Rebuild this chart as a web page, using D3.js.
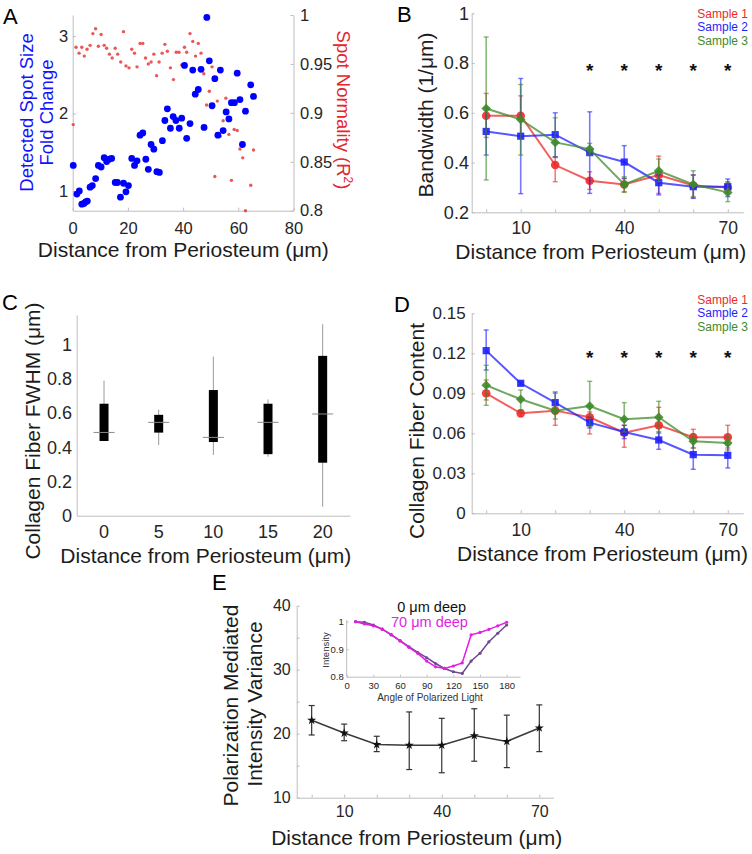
<!DOCTYPE html>
<html><head><meta charset="utf-8">
<script src="https://cdn.jsdelivr.net/npm/d3@7/dist/d3.min.js"></script>
<style>html,body{margin:0;padding:0;background:#fff;}svg{display:block;}</style>
</head><body><svg id="c" width="752" height="854"></svg>
<script>
// ---------- DATA ----------
// Panel A
const aBlueX = [0.2,1.5,2.4,3.3,4.1,4.7,5.3,6.3,7.1,8.3,9.3,10.3,11.4,12.3,13.2,14.1,15.4,16.2,17.3,18.4,19.3,20.2,21.4,22.4,23.3,24.4,25.4,26.5,27.4,28.4,29.4,30.5,31.4,32.5,33.4,34.3,35.4,36.4,37.4,38.6,39.5,40.5,41.3,42.5,43.5,44.4,45.5,46.5,47.6,48.6,49.5,50.5,51.5,52.6,53.5,54.5,55.6,56.6,57.5,58.6,59.6,60.6,61.5,62.6,64.5,65.5];
const aBlueY = [1.33,0.96,1.0,0.83,0.84,0.86,0.87,1.05,1.07,1.16,1.33,1.31,1.43,1.38,1.41,1.42,1.11,1.11,0.92,1.10,0.99,1.07,1.42,1.33,1.39,1.72,1.75,1.41,1.28,1.60,1.54,1.25,1.24,1.65,1.91,2.06,1.81,1.96,1.91,1.81,1.94,2.62,1.68,1.87,2.56,2.25,2.31,2.57,1.82,3.24,2.68,2.10,2.45,1.72,2.56,1.78,2.02,1.93,2.14,2.14,2.52,2.18,1.60,2.03,2.37,2.22];
const aRedX = [0.2,1.2,2.3,3.3,4.2,5.2,6.3,7.3,8.3,9.3,10.3,11.4,12.3,13.3,14.3,15.4,16.3,17.4,18.4,19.3,20.4,21.4,22.4,23.3,24.4,25.4,26.4,27.4,28.4,29.4,30.4,31.3,32.4,33.4,34.3,35.4,36.5,37.5,38.5,39.5,40.5,41.3,42.5,43.5,44.5,45.5,46.5,47.5,48.5,49.5,50.5,51.5,52.4,53.4,54.5,55.5,56.6,57.5,58.5,59.6,60.6,61.6,62.6,64.5,65.5];
const aRedY = [0.888,0.967,0.961,0.967,0.958,0.965,0.969,0.981,0.986,0.968,0.980,0.969,0.966,0.960,0.956,0.966,0.960,0.952,0.983,0.948,0.946,0.965,0.961,0.947,0.971,0.971,0.956,0.950,0.952,0.960,0.938,0.952,0.961,0.970,0.963,0.946,0.934,0.962,0.962,0.949,0.967,0.962,0.981,0.973,0.958,0.971,0.961,0.940,0.908,0.922,0.947,0.835,0.912,0.876,0.892,0.915,0.878,0.831,0.883,0.882,0.863,0.854,0.800,0.826,0.862];
const aXTicks = [0,20,40,60,80];
const aLTicks = [1,2,3];
const aRTicks = [0.8,0.85,0.9,0.95,1];

// Panels B, D, E share depth positions
const depth = [0,10,20,30,40,50,60,70];
const depthLabels = [10,40,70];
const starDepths = [30,40,50,60,70];
const sampleNames = ["Sample 1","Sample 2","Sample 3"];

// Panel B: bandwidth
const b1 = [0.588,0.588,0.39,0.327,0.312,0.35,0.308,0.30];
const b1Hi = [0.678,0.668,0.423,0.363,0.336,0.426,0.35,0.323];
const b1Lo = [0.501,0.505,0.323,0.292,0.283,0.276,0.259,0.276];
const b2 = [0.525,0.506,0.512,0.44,0.402,0.319,0.303,0.303];
const b2Hi = [0.62,0.738,0.60,0.604,0.468,0.35,0.35,0.334];
const b2Lo = [0.43,0.275,0.423,0.276,0.336,0.27,0.256,0.263];
const b3 = [0.617,0.573,0.481,0.454,0.312,0.367,0.312,0.28];
const b3Hi = [0.905,0.714,0.58,0.477,0.343,0.414,0.367,0.32];
const b3Lo = [0.33,0.43,0.42,0.43,0.28,0.323,0.263,0.243];
const bYTicks = [0.2,0.4,0.6,0.8,1];
const bStarY = 0.79;

// Panel C: boxplot of FWHM
const cCats = ["0","5","10","15","20"];
const cWhiskHi = [0.79,0.62,0.93,0.68,1.12];
const cQ3 = [0.655,0.59,0.735,0.655,0.935];
const cMed = [0.487,0.546,0.458,0.546,0.595];
const cQ1 = [0.437,0.486,0.431,0.36,0.31];
const cWhiskLo = [0.437,0.413,0.355,0.345,0.053];
const cYTicks = [0,0.2,0.4,0.6,0.8,1];

// Panel D: collagen fiber content
const d1 = [0.090,0.075,0.077,0.072,0.0605,0.066,0.057,0.057];
const d1Hi = [0.1,0.077,0.084,0.076,0.066,0.0795,0.063,0.066];
const d1Lo = [0.085,0.0725,0.066,0.0595,0.0495,0.056,0.049,0.049];
const d2 = [0.122,0.0975,0.083,0.068,0.061,0.055,0.044,0.0435];
const d2Hi = [0.1375,0.0985,0.091,0.072,0.066,0.061,0.054,0.051];
const d2Lo = [0.1075,0.0965,0.076,0.064,0.056,0.048,0.033,0.034];
const d3v = [0.096,0.0855,0.077,0.0805,0.0705,0.072,0.054,0.0528];
const d3Hi = [0.111,0.0925,0.09,0.099,0.083,0.084,0.0595,0.0575];
const d3Lo = [0.081,0.0775,0.0707,0.065,0.061,0.06,0.049,0.0475];
const dYTicks = [0,0.03,0.06,0.09,0.12,0.15];
const dStarY = 0.12;

// Panel E: polarization variance
const eY = [22.1,20.1,18.3,18.2,18.2,19.7,18.8,20.9];
const eHi = [24.4,21.5,19.6,23.4,22.4,23.9,22.9,24.5];
const eLo = [19.8,18.9,17.2,14.4,13.9,15.7,14.7,17.2];
const eYTicks = [10,15,20,25,30,35,40];
const eYLabels = [10,20,30,40];

// Inset
const angles = [10,20,30,40,50,60,70,80,90,100,110,120,130,140,150,160,170,180];
const int0 = [1.0,0.998,0.988,0.973,0.952,0.931,0.909,0.888,0.869,0.848,0.83,0.818,0.812,0.857,0.885,0.927,0.958,0.988];
const int70 = [1.0,0.992,0.985,0.973,0.954,0.93,0.907,0.885,0.857,0.836,0.83,0.839,0.85,0.952,0.961,0.972,0.985,0.998];
const inXTicks = [0,30,60,90,120,150,180];
const inYTicks = [0.8,0.9,1];

// ---------- DRAWING ----------
const FONT = "'Liberation Sans', Arial, Helvetica, sans-serif";
const AX = "#bdbdbd", TXT = "#262626", LBL = "#1c1c1c";
const RED = "#ee2a2a", BLUE = "#1f1fff", GREEN = "#3d8b2a";
const svg = d3.select("#c");
svg.append("rect").attr("width",752).attr("height",854).attr("fill","#fff");

const fmt = d => String(+(+d).toFixed(3));

function styleAxis(g, fs) {
  g.attr("font-family", FONT).attr("font-size", fs);
  g.select(".domain").attr("stroke", AX).attr("stroke-width", 1);
  g.selectAll(".tick line").attr("stroke", AX);
  g.selectAll(".tick text").attr("fill", TXT);
}
function axisBottom(x, y, ticks, labels, fs, pad, tl = 3) {
  const ax = d3.axisBottom(x).tickValues(ticks).tickSize(-tl).tickSizeOuter(0).tickPadding(pad)
    .tickFormat(d => (labels === null || labels.includes(d)) ? fmt(d) : "");
  styleAxis(svg.append("g").attr("transform", `translate(0,${y})`).call(ax), fs);
}
function axisLeft(y, x, ticks, labels, fs, pad, tl = 3) {
  const ax = d3.axisLeft(y).tickValues(ticks).tickSize(-tl).tickSizeOuter(0).tickPadding(pad)
    .tickFormat(d => (labels === null || labels.includes(d)) ? fmt(d) : "");
  styleAxis(svg.append("g").attr("transform", `translate(${x},0)`).call(ax), fs);
}
function text(str, x, y, fs, opts = {}) {
  const t = svg.append("text").attr("x", x).attr("y", y).attr("font-family", FONT)
    .attr("font-size", fs).attr("fill", opts.fill || LBL)
    .attr("text-anchor", opts.anchor || "middle");
  if (opts.rot) t.attr("transform", `rotate(${opts.rot},${x},${y})`);
  if (opts.weight) t.attr("font-weight", opts.weight);
  t.text(str);
  return t;
}

// Panel letters
text("A", 3, 24, 22, {anchor: "start", fill: "#000"});
text("B", 397, 22, 22, {anchor: "start", fill: "#000"});
text("C", 2, 310, 22, {anchor: "start", fill: "#000"});
text("D", 394, 312, 22, {anchor: "start", fill: "#000"});
text("E", 212, 590, 22, {anchor: "start", fill: "#000"});

// ---------- Panel A ----------
{
  const x = d3.scaleLinear([0, 80], [72.7, 293.5]);
  const yL = d3.scaleLinear([0.746, 3.271], [210.7, 15]);
  const yR = d3.scaleLinear([0.8, 1], [210.7, 15]);
  axisBottom(x, 210.7, aXTicks, null, 16.5, 11.8);
  axisLeft(yL, 72.7, aLTicks, null, 16.5, 4.4);
  const axR = d3.axisRight(yR).tickValues(aRTicks).tickSize(-3).tickSizeOuter(0).tickPadding(6.5).tickFormat(fmt);
  styleAxis(svg.append("g").attr("transform", `translate(293.5,0)`).call(axR), 16.5);
  svg.append("g").selectAll("circle").data(aRedX).join("circle")
    .attr("cx", (d) => x(d)).attr("cy", (d, i) => yR(aRedY[i])).attr("r", 1.7)
    .attr("fill", "#e53b3b").attr("opacity", 0.85);
  svg.append("g").selectAll("circle").data(aBlueX).join("circle")
    .attr("cx", (d) => x(d)).attr("cy", (d, i) => yL(aBlueY[i])).attr("r", 3.4)
    .attr("fill", "#0000ff");
  text("Distance from Periosteum (μm)", 183.3, 257, 21);
  text("Detected Spot Size", 33, 112.5, 18.5, {rot: -90, fill: "#1212ff"});
  text("Fold Change", 53, 112.5, 18.5, {rot: -90, fill: "#1212ff"});
  const rl = svg.append("text").attr("x", 337).attr("y", 110).attr("font-family", FONT)
    .attr("font-size", 18.5).attr("fill", "#e3262b").attr("text-anchor", "middle")
    .attr("transform", "rotate(90,337,110)");
  rl.append("tspan").text("Spot Normality (R");
  rl.append("tspan").attr("font-size", 12).attr("dy", -7).text("2");
  rl.append("tspan").attr("dy", 7).text(")");
}

// ---------- Panels B & D ----------
function diamond(s) { return `M0,${-s}L${s},0L0,${s}L${-s},0Z`; }
function seriesPanel(x, y, series) {
  series.forEach(s => {
    const g = svg.append("g");
    depth.forEach((dv, i) => {
      const xx = x(dv);
      g.append("line").attr("x1", xx).attr("x2", xx).attr("y1", y(s.lo[i])).attr("y2", y(s.hi[i]))
        .attr("stroke", s.c).attr("stroke-width", 1.6).attr("opacity", 0.6);
      [s.lo[i], s.hi[i]].forEach(v => g.append("line").attr("x1", xx - 2.5).attr("x2", xx + 2.5)
        .attr("y1", y(v)).attr("y2", y(v)).attr("stroke", s.c).attr("stroke-width", 1.4).attr("opacity", 0.6));
    });
    g.append("path").attr("d", d3.line().x((d, i) => x(depth[i])).y(d => y(d))(s.v))
      .attr("fill", "none").attr("stroke", s.c).attr("stroke-width", 2).attr("opacity", 0.75);
    s.v.forEach((v, i) => {
      const xx = x(depth[i]), yy = y(v);
      if (s.m === "o") g.append("circle").attr("cx", xx).attr("cy", yy).attr("r", 4.3).attr("fill", s.c).attr("opacity", 0.9);
      else if (s.m === "s") g.append("rect").attr("x", xx - 3.6).attr("y", yy - 3.6).attr("width", 7.2).attr("height", 7.2).attr("fill", s.c).attr("opacity", 0.9);
      else g.append("path").attr("transform", `translate(${xx},${yy})`).attr("d", diamond(4.8)).attr("fill", s.c).attr("opacity", 0.9);
    });
  });
}
function legend(baselines) {
  const cols = [RED, BLUE, GREEN];
  sampleNames.forEach((n, i) => text(n, 748, baselines[i], 12, {anchor: "end", fill: cols[i]}));
}
function stars(x, y, val) {
  starDepths.forEach(dv => text("*", x(dv), y(val) + 11, 19, {fill: "#111", weight: "bold"}));
}
{
  const x = d3.scaleLinear([-4.2, 74.5], [471.7, 743.3]);
  const y = d3.scaleLinear([0.2, 1], [212.3, 13.3]);
  axisBottom(x, 212.3, depth, depthLabels, 17.5, 9.6);
  axisLeft(y, 471.7, bYTicks, null, 18, 2.8);
  seriesPanel(x, y, [
    {v: b1, hi: b1Hi, lo: b1Lo, c: RED, m: "o"},
    {v: b2, hi: b2Hi, lo: b2Lo, c: BLUE, m: "s"},
    {v: b3, hi: b3Hi, lo: b3Lo, c: GREEN, m: "d"}]);
  stars(x, y, bStarY);
  legend([17.5, 31, 44.5]);
  text("Distance from Periosteum (μm)", 600.8, 258.5, 21);
  text("Bandwidth (1/μm)", 433, 115, 21, {rot: -90});
}
{
  const x = d3.scaleLinear([-4.2, 74.5], [471.7, 743.3]);
  const y = d3.scaleLinear([0, 0.15], [513.3, 313.3]);
  axisBottom(x, 513.3, depth, depthLabels, 17.5, 10.2);
  axisLeft(y, 471.7, dYTicks, null, 17, 6);
  seriesPanel(x, y, [
    {v: d1, hi: d1Hi, lo: d1Lo, c: RED, m: "o"},
    {v: d2, hi: d2Hi, lo: d2Lo, c: BLUE, m: "s"},
    {v: d3v, hi: d3Hi, lo: d3Lo, c: GREEN, m: "d"}]);
  stars(x, y, dStarY);
  legend([303.5, 317, 330.5]);
  text("Distance from Periosteum (μm)", 602.5, 560.5, 21);
  text("Collagen Fiber Content", 423.5, 431, 21, {rot: -90});
}

// ---------- Panel C ----------
{
  const x = d3.scaleLinear([0.5, 5.5], [76.7, 350]);
  const y = d3.scaleLinear([0, 1.174], [515.7, 315]);
  const xb = d3.scaleBand(cCats, [76.7, 350]);
  const axB = d3.axisBottom(xb).tickSize(0).tickSizeOuter(0).tickPadding(9.8);
  styleAxis(svg.append("g").attr("transform", "translate(0,515.7)").call(axB), 18);
  axisLeft(y, 76.7, cYTicks, null, 18, 4.7, 0);
  const g = svg.append("g");
  cCats.forEach((c, i) => {
    const cx = x(i + 1);
    g.append("line").attr("x1", cx).attr("x2", cx).attr("y1", y(cWhiskLo[i])).attr("y2", y(cWhiskHi[i]))
      .attr("stroke", "#9a9a9a").attr("stroke-width", 1);
    g.append("rect").attr("x", cx - 4.5).attr("width", 9).attr("y", y(cQ3[i])).attr("height", y(cQ1[i]) - y(cQ3[i]))
      .attr("fill", "#000");
    g.append("line").attr("x1", cx - 10.5).attr("x2", cx + 10.5).attr("y1", y(cMed[i])).attr("y2", y(cMed[i]))
      .attr("stroke", "#8a8a8a").attr("stroke-width", 1);
  });
  text("Distance from Periosteum (μm)", 205.8, 562.5, 21);
  text("Collagen Fiber FWHM (μm)", 39.5, 431, 21, {rot: -90});
}

// ---------- Panel E ----------
{
  const x = d3.scaleLinear([-4.6, 74.3], [296.7, 553.3]);
  const y = d3.scaleLinear([10, 40], [797.7, 605.7]);
  axisBottom(x, 797.7, depth, depthLabels, 16, 8);
  axisLeft(y, 296.7, eYTicks, eYLabels, 16, 6);
  const g = svg.append("g");
  depth.forEach((dv, i) => {
    const xx = x(dv);
    g.append("line").attr("x1", xx).attr("x2", xx).attr("y1", y(eLo[i])).attr("y2", y(eHi[i]))
      .attr("stroke", "#333").attr("stroke-width", 1.2);
    [eLo[i], eHi[i]].forEach(v => g.append("line").attr("x1", xx - 3).attr("x2", xx + 3)
      .attr("y1", y(v)).attr("y2", y(v)).attr("stroke", "#333").attr("stroke-width", 1.2));
  });
  g.append("path").attr("d", d3.line().x((d, i) => x(depth[i])).y(d => y(d))(eY))
    .attr("fill", "none").attr("stroke", "#3a3a3a").attr("stroke-width", 1.5);
  const star = d3.symbol(d3.symbolStar, 26);
  eY.forEach((v, i) => g.append("path").attr("transform", `translate(${x(depth[i])},${y(v)})`)
    .attr("d", star()).attr("fill", "#111"));
  text("Distance from Periosteum (μm)", 416.7, 845, 21);
  text("Polarization Mediated", 237.5, 705.5, 21, {rot: -90});
  text("Intensity Variance", 262, 704, 21, {rot: -90});

  // inset
  const xi = d3.scaleLinear([0, 195], [346.7, 520]);
  const yi = d3.scaleLinear([0.8, 1], [676.7, 621.7]);
  axisBottom(xi, 676.7, inXTicks, null, 9.5, 5.6, 2);
  const axIL = d3.axisLeft(yi).tickValues(inYTicks).tickSize(-2).tickSizeOuter(0).tickPadding(3).tickFormat(fmt);
  const gil = svg.append("g").attr("transform", "translate(346.7,0)").call(axIL);
  styleAxis(gil, 9.5);
  gil.select(".domain").attr("d", "M0,620V676.7");
  const lineI = d3.line().x((d, i) => xi(angles[i])).y(d => yi(d));
  const gi = svg.append("g");
  gi.append("path").attr("d", lineI(int0)).attr("fill", "none").attr("stroke", "#6e4a8e").attr("stroke-width", 1.5);
  int0.forEach((v, i) => gi.append("circle").attr("cx", xi(angles[i])).attr("cy", yi(v)).attr("r", 1.6).attr("fill", "#6e4a8e"));
  gi.append("path").attr("d", lineI(int70)).attr("fill", "none").attr("stroke", "#e21ee2").attr("stroke-width", 1.5);
  int70.forEach((v, i) => gi.append("circle").attr("cx", xi(angles[i])).attr("cy", yi(v)).attr("r", 1.6).attr("fill", "#e21ee2"));
  text("Angle of Polarized Light", 430, 701, 10, {fill: "#333"});
  text("Intensity", 329, 650, 9.5, {rot: -90, fill: "#333"});
  text("0 μm deep", 431.7, 612.3, 14.5, {fill: "#111"});
  text("70 μm deep", 429.5, 626.7, 14.5, {fill: "#e21ee2"});
}
</script></body></html>
